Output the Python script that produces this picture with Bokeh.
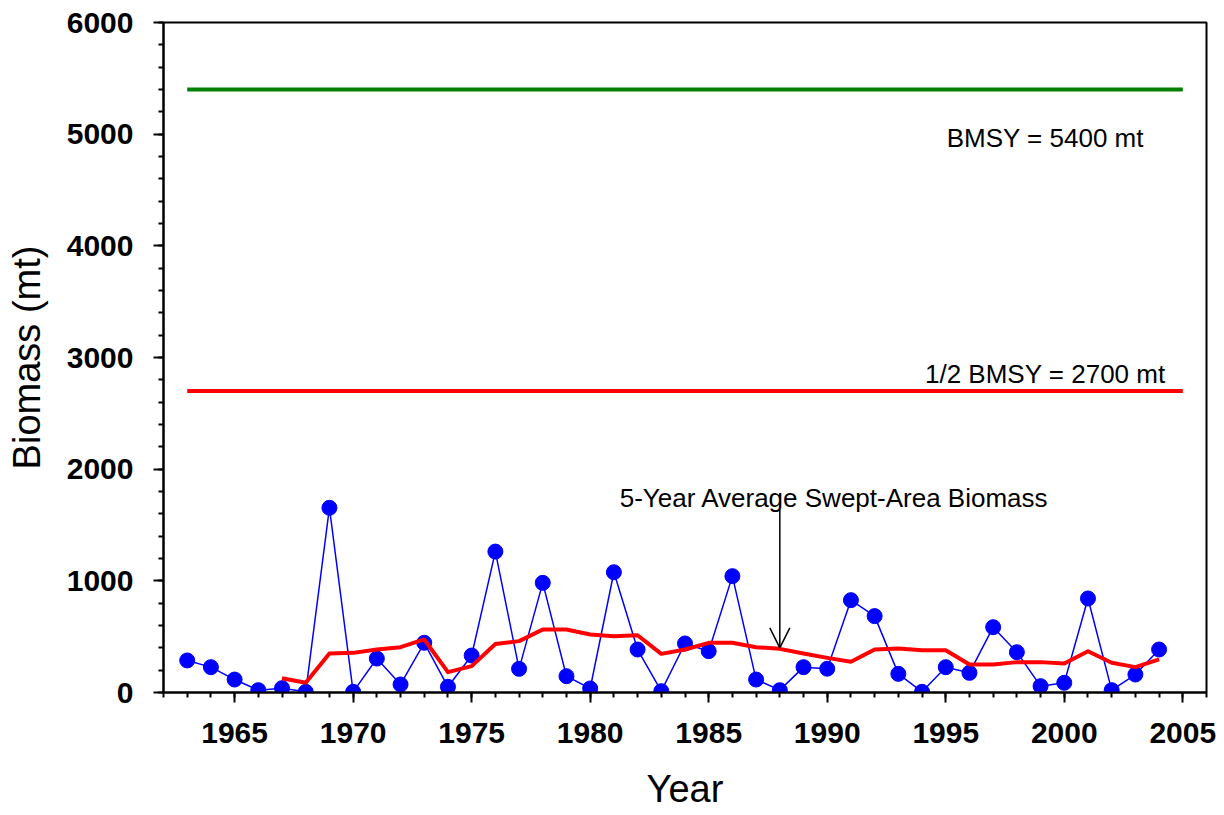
from bokeh.plotting import figure
from bokeh.models import SingleIntervalTicker, Range1d, Arrow, OpenHead, Label
from bokeh.embed import file_html
from bokeh.resources import INLINE

# ---- data ----
years = list(range(1963, 2005))
biomass = [287, 227, 116, 21, 39, 6, 1654, 6, 304, 72, 445, 51, 331, 1262,
           212, 982, 146, 36, 1077, 385, 12, 439, 370, 1042, 116, 21, 227, 213,
           827, 684, 167, 6, 227, 176, 585, 361, 57, 87, 842, 21, 161, 385]
avg_years = list(range(1967, 2005))
avg_biomass = [128, 87, 349, 355, 385, 406, 475, 182, 236, 435, 460, 564, 564,
               519, 504, 513, 346, 385, 445, 445, 406, 391, 349, 310, 275, 385,
               394, 379, 379, 251, 251, 272, 272, 260, 370, 266, 227, 296]
ref_years = [1963, 2005]
bmsy = 5400
half_bmsy = 2700
bmsy_label = "BMSY = 5400 mt"
half_label = "1/2 BMSY = 2700 mt"
avg_label = "5-Year Average Swept-Area Biomass"

FONT = "Liberation Sans"

p = figure(width=1216, height=812, output_backend="svg", toolbar_location=None,
           x_range=Range1d(1962, 2006), y_range=Range1d(0, 6000),
           min_border_left=163, min_border_right=10, min_border_top=22,
           min_border_bottom=119)
p.grid.visible = False
p.background_fill_color = "white"
p.border_fill_color = "white"
p.outline_line_color = "black"
p.outline_line_width = 2

# reference lines
p.line(ref_years, [bmsy, bmsy], line_color="#008000", line_width=4)
p.line(ref_years, [half_bmsy, half_bmsy], line_color="#ff0000", line_width=4)

# biomass series
p.line(years, biomass, line_color="#0000ff", line_width=1.5)
p.scatter(years, biomass, size=15, fill_color="#0000ff", line_color="#0000ff")

# 5-year average
p.line(avg_years, avg_biomass, line_color="#ff0000", line_width=4, line_join="round")

# annotations
p.add_layout(Label(x=1999.2, y=4967, text=bmsy_label, text_font=FONT,
                   text_font_size="26px", text_align="center",
                   text_baseline="alphabetic", text_color="black"))
p.add_layout(Label(x=1999.2, y=2848, text=half_label, text_font=FONT,
                   text_font_size="26px", text_align="center",
                   text_baseline="alphabetic", text_color="black"))
p.add_layout(Label(x=1990.3, y=1746, text=avg_label, text_font=FONT,
                   text_font_size="26px", text_align="center",
                   text_baseline="alphabetic", text_color="black"))
p.add_layout(Arrow(end=OpenHead(size=20, line_width=1.5, line_color="black"),
                   x_start=1988, y_start=1640, x_end=1988, y_end=400,
                   line_width=1.5, line_color="black"))

# axes
p.xaxis.ticker = SingleIntervalTicker(interval=5, num_minor_ticks=5)
p.yaxis.ticker = SingleIntervalTicker(interval=1000, num_minor_ticks=5)
for ax in (p.xaxis, p.yaxis):
    ax.axis_line_width = 2
    ax.axis_line_color = "black"
    ax.major_tick_line_width = 2
    ax.minor_tick_line_width = 2
    ax.major_tick_line_color = "black"
    ax.minor_tick_line_color = "black"
    ax.major_tick_out = 10
    ax.major_tick_in = 0
    ax.minor_tick_out = 5
    ax.minor_tick_in = 0
    ax.major_label_text_font = FONT
    ax.major_label_text_font_size = "30px"
    ax.major_label_text_font_style = "bold"
    ax.major_label_text_color = "black"
    ax.axis_label_text_font = FONT
    ax.axis_label_text_font_size = "38px"
    ax.axis_label_text_font_style = "normal"
    ax.axis_label_text_color = "black"

p.xaxis.axis_label = "Year"
p.yaxis.axis_label = "Biomass (mt)"
p.xaxis.major_label_standoff = 20
p.yaxis.major_label_standoff = 20
p.xaxis.axis_label_standoff = 22
p.yaxis.axis_label_standoff = 16

open("out.html", "w").write(file_html(p, INLINE))
